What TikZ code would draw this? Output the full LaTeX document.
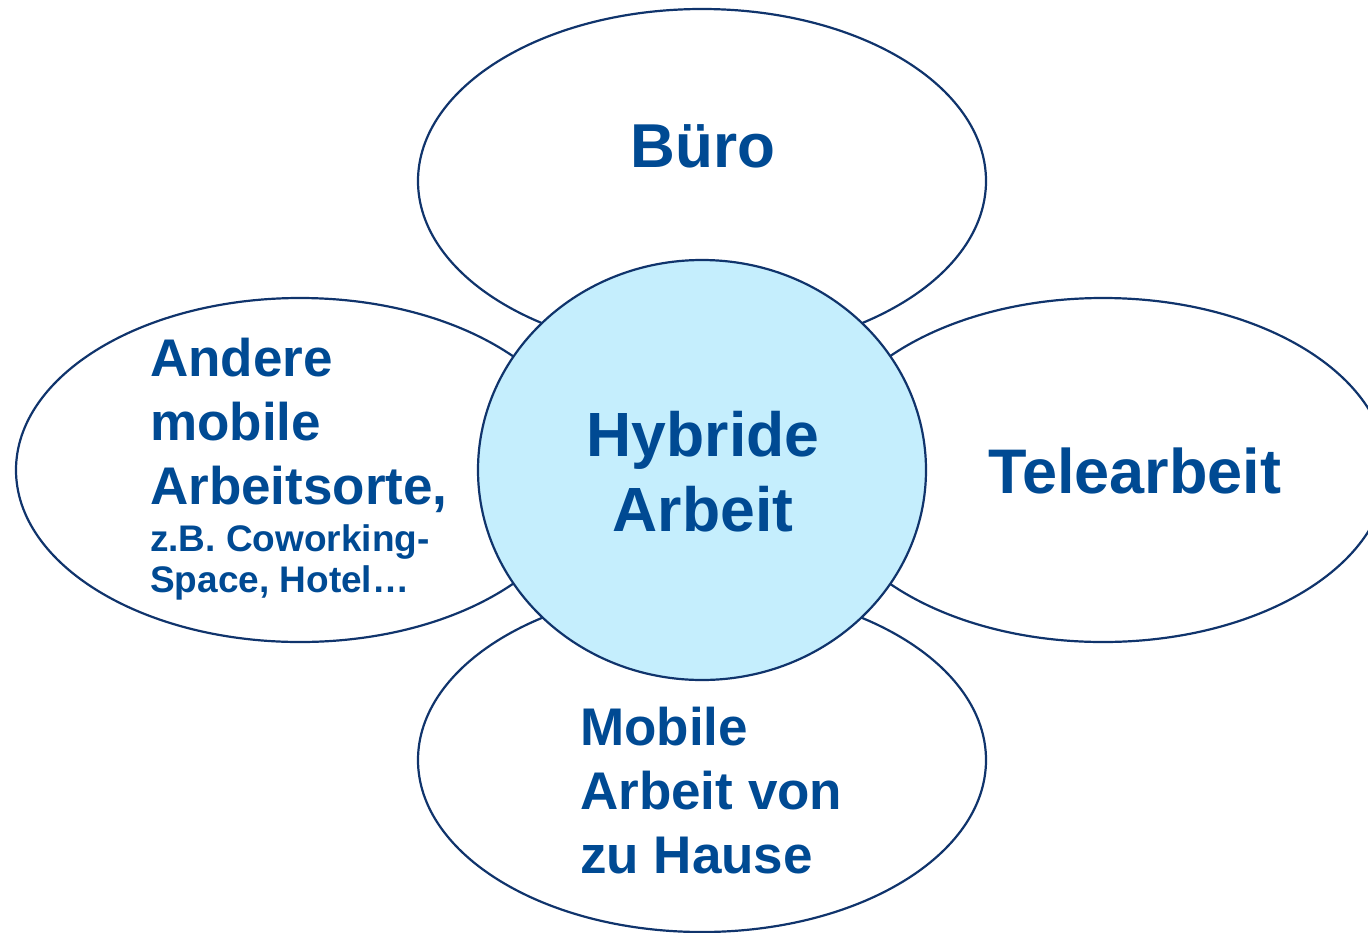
\documentclass[tikz,border=0pt]{standalone}
\usepackage{fontspec}
\setmainfont{Liberation Sans}
\usetikzlibrary{shapes.geometric}
\definecolor{navy}{RGB}{16,52,108}
\definecolor{txtblue}{RGB}{0,74,147}
\definecolor{lightblue}{RGB}{197,238,253}
\tikzset{
  petal/.style={ellipse, draw=navy, line width=2.2pt, fill=white, inner sep=0pt,
    minimum width=568pt, minimum height=344pt},
  hub/.style={ellipse, draw=navy, line width=2.2pt, fill=lightblue, inner sep=0pt,
    minimum width=448pt, minimum height=420pt},
  lbl/.style={text=txtblue, inner sep=0pt, font=\bfseries}
}
\begin{document}
\begin{tikzpicture}[x=1pt,y=-1pt]
\useasboundingbox (0,0) rectangle (1368,932);
\clip (0,0) rectangle (1368,932);
\node[petal] (buero) at (702,181) {};
\node[petal] (links) at (300,470) {};
\node[petal] (rechts) at (1103,470) {};
\node[petal] (unten) at (702,760) {};
\node[hub] (mitte) at (702,470) {};
\node[lbl, anchor=base, font=\bfseries\fontsize{62}{75}\selectfont] (tbuero) at (703,167) {Büro};
\node[lbl, anchor=base, font=\bfseries\fontsize{63}{75}\selectfont] (ttele) at (1135,493) {Telearbeit};
\node[lbl, anchor=north, align=center, font=\bfseries\fontsize{62.5}{75}\selectfont] (tmitte) at (703,411) {Hybride\\Arbeit};
\node[lbl, anchor=north west, align=left, font=\bfseries\fontsize{53}{64}\selectfont] (tlinks) at (150,338)
  {Andere\\mobile\\Arbeitsorte,\\[-17pt]{\fontsize{37}{41}\selectfont z.B. Coworking-}\\[-23pt]{\fontsize{37}{41}\selectfont Space, Hotel…}};
\node[lbl, anchor=north west, align=left, font=\bfseries\fontsize{53}{64}\selectfont] (tunten) at (580,707)
  {Mobile\\Arbeit von\\zu Hause};
\end{tikzpicture}
\end{document}
